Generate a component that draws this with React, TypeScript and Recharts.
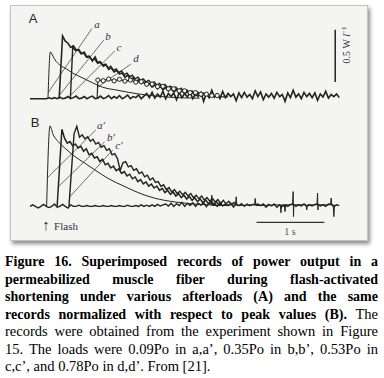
import React from 'react';
import { LineChart, Line, XAxis, YAxis, ReferenceLine } from 'recharts';

type Pt = { t: number; v: number };

// time in s; panel A in W/l, panel B as fraction of each record's peak
const STEP = 0.04;

// panel A, a (0.09Po): thin smooth record, [t, v]
const recA_a = [
  [0.265, 0], [0.3, 0.447], [0.31, 0.44], [0.37, 0.37], [0.44, 0.322], [0.54, 0.284],
  [0.63, 0.245], [0.78, 0.197], [0.93, 0.149], [1.07, 0.11], [1.28, 0.082],
  [1.62, 0.043], [2.06, 0.014], [2.5, 0.005],
];
// panel A, b (0.35Po): rise time, then samples every STEP from first time
const recA_bRise = 0.43;
const recA_bStart = 0.48;
const recA_b = [
  0.6, 0.55, 0.53, 0.49, 0.505, 0.465, 0.47, 0.43, 0.445, 0.395, 0.4, 0.36, 0.4, 0.34,
  0.35, 0.31, 0.325, 0.28, 0.295, 0.255, 0.27, 0.235, 0.245, 0.205, 0.225, 0.185, 0.2,
  0.16, 0.18, 0.145, 0.16, 0.125, 0.145, 0.11, 0.13, 0.095, 0.12, 0.085, 0.105, 0.075,
  0.095, 0.065, 0.085, 0.055, 0.075, 0.05, 0.065, 0.04, 0.055, 0.03, 0.05, 0.025, 0.04,
];
// panel A, c (0.53Po)
const recA_cRise = 0.595;
const recA_cStart = 0.63;
const recA_c = [
  0.495, 0.46, 0.47, 0.43, 0.435, 0.4, 0.41, 0.37, 0.38, 0.345, 0.355, 0.32, 0.33,
  0.295, 0.31, 0.27, 0.285, 0.25, 0.265, 0.23, 0.245, 0.21, 0.225, 0.19, 0.205, 0.175,
  0.19, 0.16, 0.175, 0.145, 0.16, 0.13, 0.145, 0.115, 0.135, 0.105, 0.12, 0.095, 0.11,
  0.08, 0.1, 0.07, 0.085, 0.06, 0.075, 0.05, 0.065, 0.04, 0.055, 0.03, 0.045, 0.025,
];
// panel A, d (0.78Po), [t, v]
const recA_d = [
  [0.99, 0], [1.0, 0.178], [1.08, 0.172], [1.16, 0.188], [1.24, 0.17], [1.32, 0.185],
  [1.4, 0.168], [1.48, 0.178], [1.56, 0.158], [1.64, 0.162], [1.72, 0.138], [1.8, 0.14],
  [1.88, 0.115], [1.96, 0.118], [2.04, 0.095], [2.12, 0.095], [2.2, 0.075], [2.28, 0.075],
  [2.36, 0.058], [2.44, 0.058], [2.52, 0.043], [2.6, 0.043], [2.68, 0.03], [2.76, 0.03],
  [2.84, 0.018], [2.92, 0.018],
];
// panel A baseline + noisy tail, every STEP from t = 0
const baseA = [
  0, 0, 0, 0, 0, 0, 0, 0.008, 0, 0.01, 0, 0.015, 0, 0.005, 0.02, 0, 0.01, 0.025, 0, 0.005,
  0.02, 0, 0.015, 0.025, 0,
  0.005, 0.025, 0, 0.01, 0.03, 0, 0.02, 0.005, 0.03, 0, 0.015, 0.035, 0, 0.02, 0.01, 0.035,
  0, 0.025,
  0.05, 0.01, 0.06, 0.005, 0.045, 0.015, 0.07, 0, 0.05, 0.02,
  0.055, -0.01, 0.06, 0.01, 0.05, 0.015, 0.065, 0, 0.045, 0.02,
  0.06, -0.025, 0.05, 0.01, 0.08, 0.015, 0.045, 0, 0.07, 0.01,
  0.05, 0.02, 0.045, -0.02, 0.055, 0.01, 0.06, 0.015, 0.04, 0,
  0.075, 0.02, 0.065, -0.01, 0.045, 0.015, 0.05, 0.005, 0.06, 0.02,
  0.04, -0.025, 0.055, 0.01, 0.08, 0.015, 0.045, 0, 0.06, 0.02,
  0.05, 0.01, 0.055, -0.015, 0.045, 0.015, 0.07, 0.005, 0.04, 0.02,
  0.045, 0.01,
];

// panel B, a' (normalized), [t, v]
const recB_a = [
  [0.245, 0], [0.294, 1.006], [0.343, 0.894], [0.416, 0.81], [0.515, 0.728],
  [0.662, 0.623], [0.809, 0.54], [0.956, 0.456], [1.151, 0.35], [1.397, 0.248],
  [1.643, 0.156], [1.838, 0.103], [2.13, 0.056], [2.5, 0.025], [2.94, 0.01],
];
const recB_bRise = 0.4;
const recB_bStart = 0.47;
const recB_b = [
  0.965, 0.85, 0.79, 0.81, 0.755, 0.78, 0.73, 0.75, 0.69, 0.72, 0.645, 0.664, 0.605, 0.62,
  0.56, 0.59, 0.52, 0.539, 0.48, 0.505, 0.447, 0.47, 0.412, 0.435, 0.38, 0.402, 0.345,
  0.368, 0.31, 0.335, 0.28, 0.307, 0.254, 0.28, 0.23, 0.255, 0.2, 0.227, 0.172, 0.2, 0.15,
  0.18, 0.13, 0.16, 0.11, 0.14, 0.092, 0.124, 0.076, 0.108, 0.06, 0.092, 0.045, 0.08,
  0.034, 0.068, 0.023, 0.058, 0.014, 0.04,
];
const recB_cRise = 0.574;
const recB_cStart = 0.65;
const recB_c = [
  0.91, 1.0, 0.865, 0.895, 0.845, 0.87, 0.815, 0.84, 0.78, 0.8, 0.74, 0.76, 0.7, 0.72,
  0.645, 0.66, 0.595, 0.45, 0.545, 0.56, 0.495, 0.51, 0.45, 0.47, 0.41, 0.43, 0.37, 0.39,
  0.33, 0.355, 0.3, 0.31, 0.25, 0.27, 0.21, 0.235, 0.18, 0.21, 0.16, 0.19, 0.145, 0.175,
  0.13, 0.16, 0.11, 0.14, 0.095, 0.13, 0.08, 0.11, 0.065, 0.1, 0.055, 0.085, 0.04, 0.075,
  0.03, 0.065, 0.025, 0.05, 0.02,
];
const baseB = [
  0, 0.02, 0, -0.02, 0, 0.025, 0, -0.015, 0, 0.03, -0.01, 0, 0.025, 0, -0.02, 0.02, 0, 0,
  0.015, 0,
  0, 0.01, 0, 0, 0.01, 0, 0, 0.01, 0, 0, 0.01, 0, 0, 0.01, 0, 0, 0.015, 0, 0, 0.01, 0,
  0.02, 0, 0.015, 0, 0.02, 0, 0.025, 0.005, 0.02,
  0.03, 0.005, 0.04, 0, 0.035, 0.01, 0.05, 0, 0.04, 0.01,
  0.045, 0, 0.04, 0.015, 0.05, -0.005, 0.04, 0.03, 0.035, 0,
  0.045, 0.005, 0.03, 0.01, 0.04, -0.01, 0.03, 0.01, 0.035, 0,
  0.03, 0.01, 0.025, 0.02, 0.03, 0.01, 0.03, -0.01, 0.025, 0.005,
  0.03, -0.01, 0.02, 0, 0.02, 0, 0.025, 0.03, 0, 0.02,
  0.005, 0.03, 0, 0.02, 0.005, 0.025, 0.03, 0.005, 0.02, 0,
  0.03, 0.025, 0, 0.02, 0.01,
];
// panel B: sharp artefact spikes on the tail, [t, v]
const spikesB = [
  [2.67, 0.02], [2.68, 0.14], [2.69, 0.01],
  [3.03, 0.02], [3.04, 0.12], [3.05, 0.01],
  [3.31, 0.02], [3.32, 0.1], [3.33, 0.01],
  [3.69, 0.02], [3.7, -0.08], [3.71, 0.02],
  [3.75, 0.02], [3.76, -0.065], [3.77, 0.02],
  [3.87, 0.02], [3.88, 0.185], [3.885, -0.128], [3.89, 0.02],
  [4.07, 0.02], [4.08, -0.045], [4.09, 0.02],
  [4.23, 0.02], [4.24, 0.165], [4.245, -0.045], [4.25, 0.02],
  [4.43, 0.02], [4.44, 0.105], [4.45, 0.02],
  [4.47, 0.02], [4.48, -0.128], [4.49, 0.02],
];

// caption, as broken in the original
const captionLines: { bold: string; plain: string }[] = [
  { bold: 'Figure 16. Superimposed records of power output in a', plain: '' },
  { bold: 'permeabilized muscle fiber during flash-activated', plain: '' },
  { bold: 'shortening under various afterloads (A) and the same', plain: '' },
  { bold: 'records normalized with respect to peak values (B).', plain: ' The' },
  { bold: '', plain: 'records were obtained from the experiment shown in Figure' },
  { bold: '', plain: '15. The loads were 0.09Po in a,a’, 0.35Po in b,b’, 0.53Po in' },
  { bold: '', plain: 'c,c’, and 0.78Po in d,d’. From [21].' },
];

const pairs = (p: number[][]): Pt[] => p.map(([t, v]) => ({ t, v }));
const sampled = (vals: number[], start: number, rise?: number): Pt[] => {
  const pts = vals.map((v, i) => ({ t: +(start + i * STEP).toFixed(3), v }));
  return rise === undefined ? pts : [{ t: rise, v: 0 }, ...pts];
};

const ink = '#232323';
const thin = '#4a4a4a';
const serif = '"Liberation Serif", "Times New Roman", serif';

const ringDot = (p: any) => {
  const { cx, cy, index, payload } = p;
  if (index < 1 || payload.v < 0.02) return <g key={`d${index}`} />;
  return <circle key={`d${index}`} cx={cx} cy={cy} r={2.1} fill="#f4f4f2" stroke={ink} strokeWidth={1} />;
};

const lbl = (x: number, y: number, text: React.ReactNode, extra: React.CSSProperties = {}) => (
  <div
    style={{
      position: 'absolute', left: x, top: y, transform: 'translate(-50%, -50%)',
      fontFamily: serif, fontStyle: 'italic', fontSize: 11, color: '#333', whiteSpace: 'nowrap',
      lineHeight: 1, ...extra,
    }}
  >
    {text}
  </div>
);

function PanelA() {
  return (
    <div style={{ position: 'absolute', left: 30, top: 15 }}>
      <LineChart width={312} height={91} margin={{ top: 0, right: 0, bottom: 0, left: 0 }}>
        <XAxis type="number" dataKey="t" domain={[0, 4.6]} hide allowDataOverflow />
        <YAxis type="number" domain={[-0.07, 0.8]} hide allowDataOverflow />
        <ReferenceLine segment={[{ x: 0.912, y: 0.67 }, { x: 0.27, y: 0.06 }]} stroke={thin} strokeWidth={0.8} />
        <ReferenceLine segment={[{ x: 1.088, y: 0.56 }, { x: 0.435, y: 0.034 }]} stroke={thin} strokeWidth={0.8} />
        <ReferenceLine segment={[{ x: 1.25, y: 0.457 }, { x: 0.6, y: 0.034 }]} stroke={thin} strokeWidth={0.8} />
        <ReferenceLine segment={[{ x: 1.485, y: 0.33 }, { x: 1.0, y: 0.11 }]} stroke={thin} strokeWidth={0.8} />
        <ReferenceLine segment={[{ x: 4.5, y: 0.16 }, { x: 4.5, y: 0.66 }]} stroke={ink} strokeWidth={1.5} />
        <Line data={sampled(baseA, 0)} dataKey="v" stroke={ink} strokeWidth={1.6} dot={false} isAnimationActive={false} />
        <Line data={pairs(recA_a)} dataKey="v" type="monotone" stroke={ink} strokeWidth={1} dot={false} isAnimationActive={false} />
        <Line data={sampled(recA_c, recA_cStart, recA_cRise)} dataKey="v" stroke={ink} strokeWidth={1.4} dot={false} isAnimationActive={false} />
        <Line data={sampled(recA_b, recA_bStart, recA_bRise)} dataKey="v" stroke={ink} strokeWidth={1.6} dot={false} isAnimationActive={false} />
        <Line data={pairs(recA_d)} dataKey="v" stroke={ink} strokeWidth={1.2} dot={ringDot} isAnimationActive={false} />
      </LineChart>
    </div>
  );
}

function PanelB() {
  return (
    <div style={{ position: 'absolute', left: 30, top: 120 }}>
      <LineChart width={312} height={104} margin={{ top: 0, right: 0, bottom: 0, left: 0 }}>
        <XAxis type="number" dataKey="t" domain={[0, 4.6]} hide allowDataOverflow />
        <YAxis type="number" domain={[-0.22, 1.08]} hide allowDataOverflow />
        <ReferenceLine segment={[{ x: 0.97, y: 0.956 }, { x: 0.255, y: 0.356 }]} stroke={thin} strokeWidth={0.8} />
        <ReferenceLine segment={[{ x: 1.1, y: 0.806 }, { x: 0.415, y: 0.244 }]} stroke={thin} strokeWidth={0.8} />
        <ReferenceLine segment={[{ x: 1.22, y: 0.706 }, { x: 0.586, y: 0.119 }]} stroke={thin} strokeWidth={0.8} />
        <ReferenceLine segment={[{ x: 3.34, y: -0.2 }, { x: 4.34, y: -0.2 }]} stroke="#333" strokeWidth={1.2} />
        <Line data={sampled(baseB, 0)} dataKey="v" stroke={ink} strokeWidth={1.4} dot={false} isAnimationActive={false} />
        <Line data={pairs(spikesB)} dataKey="v" stroke={ink} strokeWidth={1} dot={false} isAnimationActive={false} />
        <Line data={pairs(recB_a)} dataKey="v" type="monotone" stroke={ink} strokeWidth={1} dot={false} isAnimationActive={false} />
        <Line data={sampled(recB_b, recB_bStart, recB_bRise)} dataKey="v" stroke={ink} strokeWidth={1.5} dot={false} isAnimationActive={false} />
        <Line data={sampled(recB_c, recB_cStart, recB_cRise)} dataKey="v" stroke={ink} strokeWidth={1.4} dot={false} isAnimationActive={false} />
      </LineChart>
    </div>
  );
}

export default function App() {
  return (
    <div style={{ position: 'absolute', left: 0, top: 0, width: 384, height: 378, background: '#fff', overflow: 'hidden' }}>
      <div
        style={{
          position: 'absolute', left: 10, top: 5, width: 356, height: 234, background: '#f4f4f2',
          border: '1px solid #c4c4c4', boxShadow: '2px 3px 4px rgba(0,0,0,0.45)',
        }}
      />
      <PanelA />
      <PanelB />
      {lbl(33, 18, 'A', { fontFamily: '"Liberation Sans", Arial, sans-serif', fontStyle: 'normal', fontSize: 13, color: '#222' })}
      {lbl(35, 122, 'B', { fontFamily: '"Liberation Sans", Arial, sans-serif', fontStyle: 'normal', fontSize: 13, color: '#222' })}
      {lbl(97, 24, 'a')}
      {lbl(108, 36, 'b')}
      {lbl(119, 47, 'c')}
      {lbl(136, 58, 'd')}
      {lbl(101, 125, 'a′')}
      {lbl(111, 137, 'b′')}
      {lbl(119, 145, 'c′')}
      {lbl(347, 45, <span>0.5 W <i>l</i><sup style={{ fontSize: 7 }}>−1</sup></span>, {
        fontStyle: 'normal', fontSize: 10, transform: 'translate(-50%, -50%) rotate(-90deg)',
      })}
      {lbl(290, 232, '1 s', { fontStyle: 'normal', fontSize: 10, color: '#555' })}
      {lbl(46, 225, '↑', { fontStyle: 'normal', fontSize: 15, color: '#333' })}
      {lbl(66, 226, 'Flash', { fontStyle: 'normal', fontSize: 11, color: '#333' })}
      <div style={{ position: 'absolute', left: 5, top: 253, width: 373, fontFamily: serif, color: '#000' }}>
        {captionLines.map((ln, i) => (
          <div
            key={i}
            style={{
              height: 17.5, lineHeight: '17.5px', fontSize: 14.5, textAlign: 'justify',
              textAlignLast: i === captionLines.length - 1 ? 'left' : 'justify',
              overflow: 'hidden',
            }}
          >
            {ln.bold && <b style={{ fontSize: 14 }}>{ln.bold}</b>}
            {ln.plain}
          </div>
        ))}
      </div>
    </div>
  );
}
